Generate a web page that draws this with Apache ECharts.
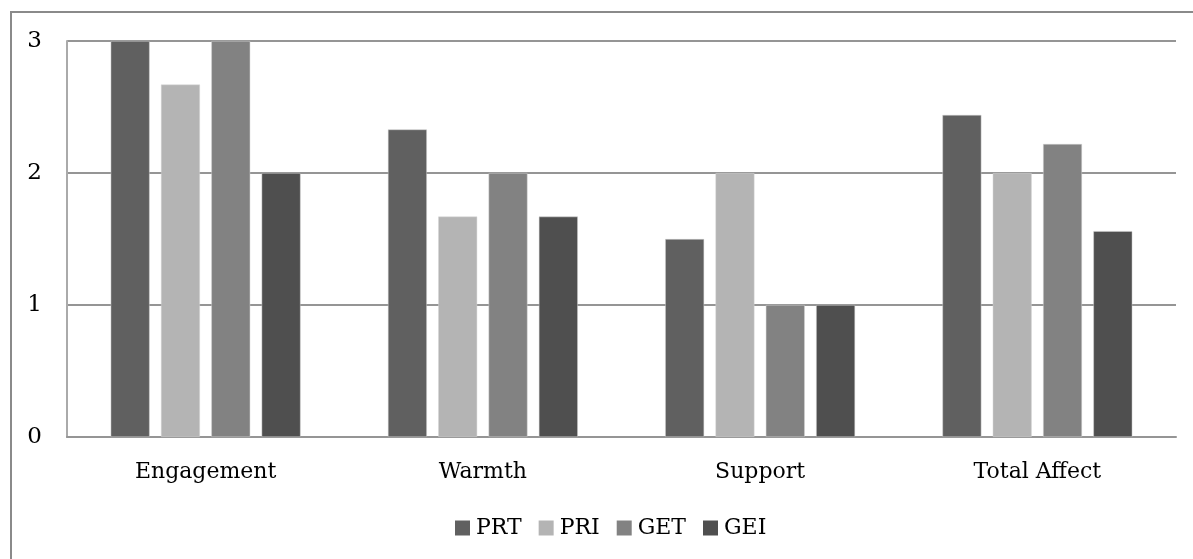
<!DOCTYPE html>
<html>
<head>
<meta charset="utf-8">
<script src="https://cdn.jsdelivr.net/npm/echarts@6/dist/echarts.min.js"></script>
<style>
  html, body { margin: 0; padding: 0; background: #ffffff; }
  #chart { width: 1193px; height: 559px; }
</style>
</head>
<body>
<div id="chart"></div>
<script>
// Affect scores by group
const categories = ['Engagement', 'Warmth', 'Support', 'Total Affect'];
const seriesNames = ['PRT', 'PRI', 'GET', 'GEI'];
const prt = [3, 2.33, 1.5, 2.44];
const pri = [2.67, 1.67, 2, 2];
const get = [3, 2, 1, 2.22];
const gei = [2, 1.67, 1, 1.56];
const yTicks = [0, 1, 2, 3];

const colors = ['#606060', '#b4b4b4', '#828282', '#4f4f4f'];
const values = [prt, pri, get, gei];
const fontFamily = '"DejaVu Serif", "Liberation Serif", serif';

const chart = echarts.init(document.getElementById('chart'), null, { renderer: 'canvas' });

chart.setOption({
  animation: false,
  backgroundColor: '#ffffff',
  color: colors,
  graphic: [{
    type: 'rect',
    shape: { x: 11, y: 12, width: 1300, height: 700 },
    style: { fill: 'none', stroke: '#8a8a8a', lineWidth: 2 },
    silent: true
  }],
  grid: { left: 67, right: 17, top: 41, bottom: 122, containLabel: false },
  legend: {
    data: seriesNames,
    top: 512,
    left: 450,
    itemWidth: 15,
    itemHeight: 15,
    itemGap: 17,
    icon: 'rect',
    itemStyle: { borderWidth: 0 },
    textStyle: { fontFamily: fontFamily, fontSize: 22, color: '#000000', padding: [0, 0, 0, 1] }
  },
  xAxis: {
    type: 'category',
    data: categories,
    axisLine: { show: true, lineStyle: { color: '#959595', width: 2 } },
    axisTick: { show: false },
    axisLabel: { fontFamily: fontFamily, fontSize: 22, color: '#000000', margin: 24 }
  },
  yAxis: {
    type: 'value',
    min: yTicks[0],
    max: yTicks[yTicks.length - 1],
    interval: 1,
    axisLine: { show: true, lineStyle: { color: '#aaaaaa', width: 2 } },
    axisTick: { show: false },
    axisLabel: { fontFamily: fontFamily, fontSize: 23, color: '#000000', margin: 25, align: 'right' },
    splitLine: { show: true, lineStyle: { color: '#959595', width: 2 } }
  },
  series: seriesNames.map((name, i) => ({
    name: name,
    type: 'bar',
    data: values[i],
    barWidth: 39,
    barGap: '29%',
    itemStyle: { color: colors[i], borderColor: 'rgba(210,210,210,0.8)', borderWidth: 0.6 }
  }))
});
</script>
</body>
</html>
